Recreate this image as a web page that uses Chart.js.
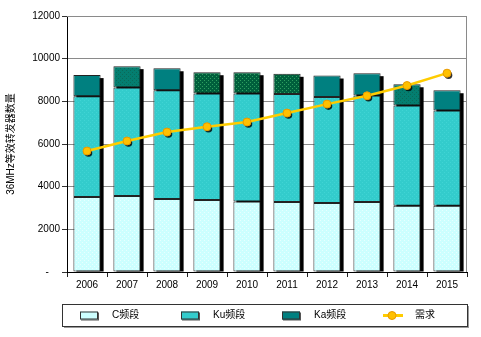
<!DOCTYPE html>
<html>
<head>
<meta charset="utf-8">
<script src="https://cdn.jsdelivr.net/npm/chart.js@4/dist/chart.umd.min.js"></script>
<style>
  html, body { margin: 0; padding: 0; background: #fff; }
</style>
</head>
<body>
<canvas id="graficoTransp" width="481" height="337"></canvas>
<script>
// años y transpondedores por banda (36MHz equivalentes)
const years = ["2006", "2007", "2008", "2009", "2010", "2011", "2012", "2013", "2014", "2015"];
const cBand = [3520, 3560, 3420, 3380, 3310, 3280, 3240, 3280, 3100, 3100];
const kuBand = [4720, 5090, 5100, 4990, 5060, 5060, 4960, 4990, 4700, 4470];
const kaBand = [990, 1000, 1030, 995, 995, 950, 1010, 1050, 1000, 950];
const demand = [5670, 6140, 6560, 6810, 7030, 7450, 7870, 8260, 8740, 9320];
const yTickStep = 2000;
const yMax = 12000;

// trama de las barras Ka: 0 liso, 1 punteado suave, 2 punteado verde
const kaTrama = [0, 1, 0, 2, 2, 2, 0, 0, 1, 0];

const FONT = '"Liberation Sans", "Noto Sans CJK SC", Arial, sans-serif';

function dotPattern(bg, dot) {
  const c = document.createElement("canvas");
  c.width = 4; c.height = 4;
  const g = c.getContext("2d");
  g.fillStyle = bg; g.fillRect(0, 0, 4, 4);
  g.fillStyle = dot;
  g.fillRect(0, 0, 1, 1);
  g.fillRect(2, 2, 1, 1);
  return g.createPattern(c, "repeat");
}

const ctx = document.getElementById("graficoTransp").getContext("2d");
const kaPlain = "#008080";
const kaStyles = [kaPlain, dotPattern("#047e70", "#0a6a58"), dotPattern("#005f3c", "#2fa060")];
const kaFills = kaTrama.map(t => kaStyles[t]);
const cFill = dotPattern("#ccffff", "#e8ffff");
const kuFill = dotPattern("#33cccc", "#40d4d4");

// sombra negra detrás de cada columna y de los puntos
const sombras = {
  id: "sombras",
  beforeDatasetsDraw(chart) {
    const { ctx, chartArea } = chart;
    const bottom = chart.getDatasetMeta(0).data;
    const top = chart.getDatasetMeta(2).data;
    ctx.save();
    ctx.beginPath();
    ctx.rect(chartArea.left, chartArea.top, chartArea.right - chartArea.left, chartArea.bottom - chartArea.top);
    ctx.clip();
    ctx.fillStyle = "#000";
    top.forEach((bar, i) => {
      const w = bar.width;
      ctx.fillRect(bar.x - w / 2 + 3, bar.y + 3, w, bottom[i].base - bar.y - 3);
    });
    ctx.restore();
  },
  beforeDatasetDraw(chart, args) {
    if (args.index !== 3) return;
    const { ctx } = chart;
    ctx.save();
    ctx.fillStyle = "rgba(0,0,0,0.8)";
    chart.getDatasetMeta(3).data.forEach(p => {
      ctx.beginPath();
      ctx.arc(p.x + 1.5, p.y + 2, 3.8, 0, Math.PI * 2);
      ctx.fill();
    });
    ctx.restore();
  },
  afterDatasetsDraw(chart) {
    // borde gris superior y derecho del área
    const { ctx, chartArea } = chart;
    ctx.save();
    ctx.strokeStyle = "#8a8a8a";
    ctx.lineWidth = 1;
    ctx.beginPath();
    ctx.moveTo(chartArea.left, chartArea.top + 0.5);
    ctx.lineTo(chartArea.right - 0.5, chartArea.top + 0.5);
    ctx.lineTo(chartArea.right - 0.5, chartArea.bottom);
    ctx.stroke();
    ctx.restore();
  }
};

// leyenda en recuadro debajo del gráfico
const leyenda = {
  id: "leyenda",
  afterDraw(chart) {
    const { ctx } = chart;
    const box = { x: 62, y: 304, w: 405, h: 22 };
    ctx.save();
    ctx.fillStyle = "#9a9a9a";
    ctx.fillRect(box.x + 2, box.y + 2, box.w, box.h);
    ctx.fillStyle = "#fff";
    ctx.fillRect(box.x, box.y, box.w, box.h);
    ctx.strokeStyle = "#333";
    ctx.lineWidth = 1;
    ctx.strokeRect(box.x + 0.5, box.y + 0.5, box.w, box.h);

    const cy = box.y + box.h / 2 + 0.5;
    const fills = ["#ccffff", "#33cccc", kaPlain];
    chart.data.datasets.forEach((ds, i) => {
      const x = 80 + i * 101;
      if (ds.type === "line") {
        ctx.strokeStyle = ds.borderColor;
        ctx.lineWidth = 3;
        ctx.beginPath();
        ctx.moveTo(x, cy);
        ctx.lineTo(x + 20, cy);
        ctx.stroke();
        ctx.fillStyle = ds.pointBackgroundColor;
        ctx.strokeStyle = ds.pointBorderColor;
        ctx.lineWidth = 1;
        ctx.beginPath();
        ctx.arc(x + 9, cy, 4, 0, Math.PI * 2);
        ctx.fill();
        ctx.stroke();
      } else {
        ctx.fillStyle = "#555";
        ctx.fillRect(x + 1, cy - 3, 18, 8);
        ctx.fillStyle = fills[i];
        ctx.fillRect(x, cy - 4, 18, 8);
        ctx.strokeStyle = "#333";
        ctx.lineWidth = 1;
        ctx.strokeRect(x + 0.5, cy - 3.5, 17, 7);
      }
      ctx.fillStyle = "#000";
      ctx.font = "10px " + FONT;
      ctx.textBaseline = "middle";
      ctx.fillText(ds.label, x + 32, cy);
    });
    ctx.restore();
  }
};

new Chart(ctx, {
  type: "bar",
  data: {
    labels: years,
    datasets: [
      { label: "C频段", data: cBand, backgroundColor: cFill, borderColor: "#222", borderWidth: 1, borderSkipped: false, order: 1 },
      { label: "Ku频段", data: kuBand, backgroundColor: kuFill, borderColor: "#222", borderWidth: 1, borderSkipped: false, order: 1 },
      { label: "Ka频段", data: kaBand, backgroundColor: kaFills, borderColor: "#222", borderWidth: 1, borderSkipped: false, order: 1 },
      {
        type: "line",
        label: "需求",
        data: demand,
        borderColor: "#ffcc00",
        borderWidth: 2.5,
        pointRadius: 4,
        pointBackgroundColor: "#ffc000",
        pointBorderColor: "#e89a00",
        pointBorderWidth: 1,
        tension: 0,
        order: 0
      }
    ]
  },
  options: {
    responsive: false,
    animation: false,
    devicePixelRatio: 1,
    barPercentage: 0.68,
    categoryPercentage: 1,
    layout: { padding: { top: 16, right: 14, bottom: 45, left: 0 } },
    plugins: {
      legend: { display: false },
      tooltip: { enabled: false }
    },
    scales: {
      x: {
        stacked: true,
        grid: { offset: true, drawOnChartArea: false, tickLength: 5, color: "#222" },
        border: { color: "#000", width: 1 },
        ticks: { color: "#000", font: { size: 10, family: FONT }, padding: 2 },
        afterFit(s) { s.height = 20; }
      },
      y: {
        stacked: true,
        min: 0,
        max: yMax,
        ticks: {
          stepSize: yTickStep,
          color: "#000",
          font: { size: 10, family: FONT },
          padding: 2,
          callback: v => v === 0 ? "-    " : v
        },
        grid: { color: "#8a8a8a", lineWidth: 1, tickLength: 5, tickColor: "#333" },
        border: { color: "#000", width: 1 },
        title: {
          display: true,
          text: "36MHz等效转发器数量",
          color: "#000",
          font: { size: 10, family: FONT },
          padding: { top: 5, bottom: 0 }
        },
        afterFit(s) { s.width = 67; }
      }
    }
  },
  plugins: [sombras, leyenda]
});
</script>
</body>
</html>
